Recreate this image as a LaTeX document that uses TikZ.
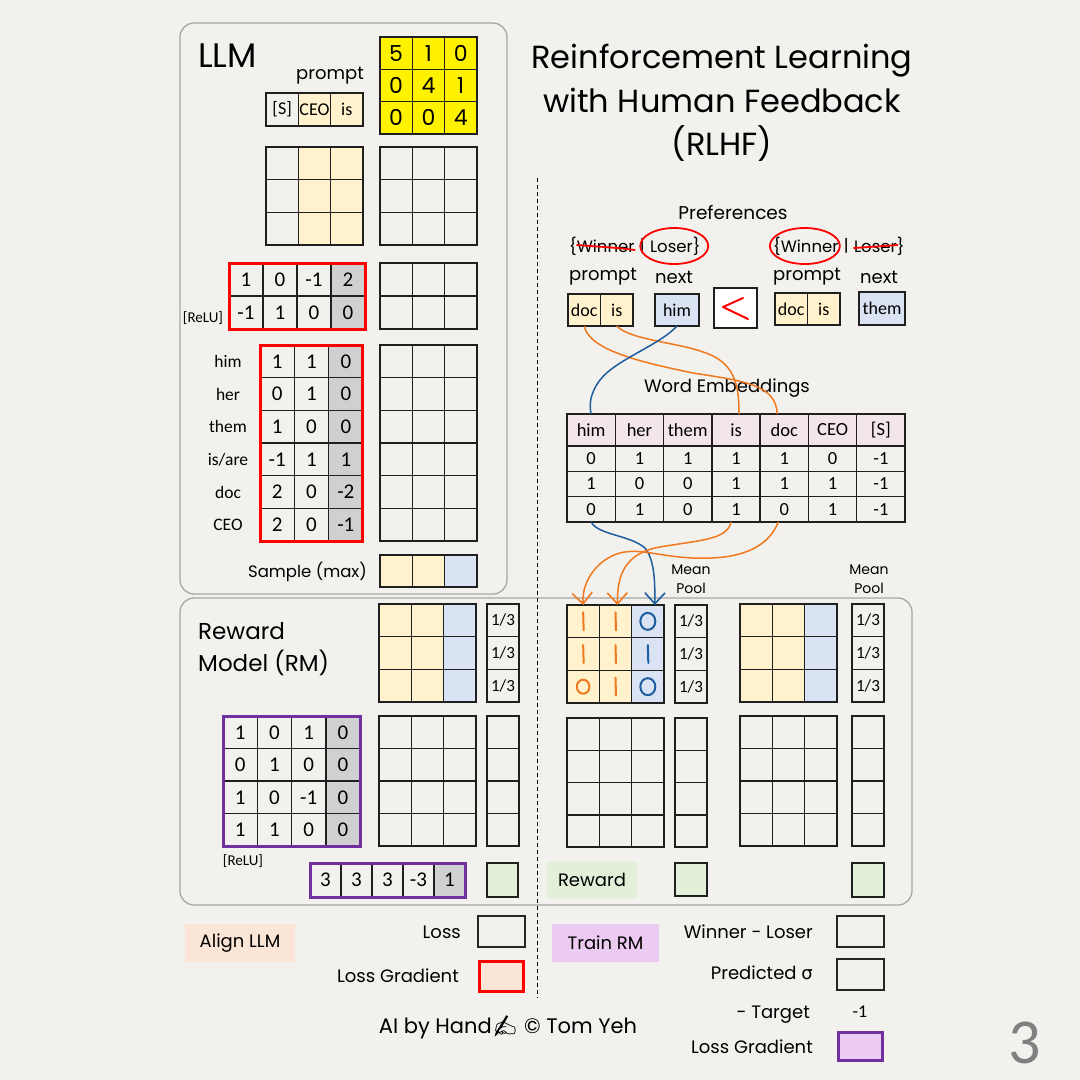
\documentclass[tikz,border=0pt]{standalone}
\usepackage{fontspec}
\setmainfont{Carlito}
\newfontfamily\hand{Poppins}
\newfontfamily\emo{Noto Emoji}
\newfontfamily\gk{DejaVu Sans}
\usetikzlibrary{fit,arrows.meta}
\definecolor{paper}{HTML}{F2F1EE}
\definecolor{yel}{HTML}{FFF2CC}
\definecolor{blu}{HTML}{DAE3F3}
\definecolor{gry}{HTML}{D0D0D0}
\definecolor{pnk}{HTML}{F3E6EB}
\definecolor{grn}{HTML}{E2F0D9}
\definecolor{pch}{HTML}{FBE5D6}
\definecolor{lav}{HTML}{EBCBF2}
\definecolor{pur}{HTML}{7030A0}
\definecolor{org}{HTML}{F0781E}
\definecolor{bln}{HTML}{1F5E9E}
\definecolor{pan}{HTML}{A6A6A6}
\tikzset{
 cell/.style={draw=black!88, line width=1.5pt, inner sep=0pt, outer sep=0pt, font={\fontsize{21}{21}\selectfont}},
 hw/.style={font={\hand\fontsize{#1}{#1}\selectfont}, inner sep=0pt},
 cf/.style={font={\fontsize{#1}{#1}\selectfont}, inner sep=0pt},
 panel/.style={draw=pan, line width=1.3pt, rounded corners=14pt},
 fr/.style={inner sep=0pt, line width=3pt, draw=#1},
 ocurve/.style={draw=org, line width=1.5pt},
 bcurve/.style={draw=bln, line width=1.5pt},
 arrowend/.style={-{Straight Barb[length=11pt,width=20pt,line width=1.6pt]}},
 hstroke/.style={line width=2pt, line cap=round},
 legbox/.style={draw=black!85, line width=1.4pt, minimum width=47pt, minimum height=31pt, inner sep=0pt},
}
% empty grid: name, x0, y0, ncols, nrows, cw, ch
\newcommand\egrid[7]{%
  \foreach \rowidx in {1,...,#5}{%
    \foreach \colidx in {1,...,#4}{%
      \node[cell,minimum width=#6pt,minimum height=#7pt] (#1-\rowidx-\colidx) at ({#2+(\colidx-0.5)*#6},{#3+(\rowidx-0.5)*#7}) {};
    }}}
% row of valued cells: name, row, x0, ytop, cw, ch, list
\newcommand\vrow[7]{%
  \foreach \val [count=\colidx] in {#7}{%
    \node[cell,minimum width=#5pt,minimum height=#6pt] (#1-#2-\colidx) at ({#3+(\colidx-0.5)*#5},{#4+0.5*#6}) {\val};
  }}
\begin{document}
\begin{tikzpicture}[x=1pt,y=-1pt]
\fill[paper] (0,0) rectangle (1080,1080);
\useasboundingbox (0,0) rectangle (1080,1080);

% panels and divider
\draw[panel] (180,23) rectangle (507,594);
\draw[panel] (180,598) rectangle (912,905);
\draw[line width=1pt, dash pattern=on 4pt off 3pt] (537,178) -- (537,998);

% ---------------- LLM ----------------
\node[hw=34, anchor=west] (llm) at (198,56) {LLM};
\begin{scope}[cell/.append style={fill=yellow, font={\hand\fontsize{22}{22}\selectfont}}]
\vrow{ym}{1}{380}{37}{32.3}{32.3}{5,1,0}
\vrow{ym}{2}{380}{69.3}{32.3}{32.3}{0,4,1}
\vrow{ym}{3}{380}{101.6}{32.3}{32.3}{0,0,4}
\end{scope}
\node[hw=18] (plab) at (330,76) {prompt};
\fill[yel] (298.3,93) rectangle (363,126);
\begin{scope}[cell/.append style={font={\fontsize{18}{18}\selectfont}}]
\vrow{pr}{1}{266}{93}{32.3}{33}{{[S]},CEO,is}
\end{scope}
\fill[yel] (298.3,147) rectangle (363,245);
\egrid{ga}{266}{147}{3}{3}{32.3}{32.7}
\egrid{gb}{380}{147}{3}{3}{32.3}{32.7}

\fill[gry] (331,263) rectangle (365,329);
\vrow{rm}{1}{229}{263}{34}{33}{1,0,-1,2}
\vrow{rm}{2}{229}{296}{34}{33}{-1,1,0,0}
\node[fit=(rm-1-1)(rm-2-4), fr=red] (rmframe) {};
\node[cf=15] (relua) at (203,318) {[ReLU]};
\egrid{gc}{380}{263}{3}{2}{32.3}{33}

\fill[gry] (328.7,345) rectangle (363,541);
\vrow{vo}{1}{260}{345}{34.33}{32.67}{1,1,0}
\vrow{vo}{2}{260}{377.67}{34.33}{32.67}{0,1,0}
\vrow{vo}{3}{260}{410.33}{34.33}{32.67}{1,0,0}
\vrow{vo}{4}{260}{443}{34.33}{32.67}{-1,1,1}
\vrow{vo}{5}{260}{475.67}{34.33}{32.67}{2,0,-2}
\vrow{vo}{6}{260}{508.33}{34.33}{32.67}{2,0,-1}
\node[fit=(vo-1-1)(vo-6-3), fr=red] (voframe) {};
\node[cf=17.5] (wa) at (228,361.3) {him};
\node[cf=17.5] (wb) at (228,394) {her};
\node[cf=17.5] (wc) at (228,426.7) {them};
\node[cf=17.5] (wd) at (228,459.3) {is/are};
\node[cf=17.5] (we) at (228,492) {doc};
\node[cf=17.5] (wf) at (228,524.7) {CEO};
\egrid{gd}{380}{345}{3}{6}{32.3}{32.67}

\node[hw=16.5, anchor=east] (samp) at (367,572) {Sample (max)};
\fill[yel] (380,555) rectangle (444.6,587);
\fill[blu] (444.6,555) rectangle (477,587);
\egrid{ge}{380}{555}{3}{1}{32.3}{32}

% ---------------- title ----------------
\node[font={\hand\fontsize{32}{43.5}\selectfont}, align=center, inner sep=0pt] (title) at (722,103) {Reinforcement Learning\\with Human Feedback\\(RLHF)};

% ---------------- preferences ----------------
\node[hw=18.5] (pref) at (733,213) {Preferences};
\node[hw=16.5, anchor=west] (lwin) at (569,246) {\{Winner};
\node[hw=16.5, anchor=west] (lbar) at ([xshift=5pt]lwin.east) {|};
\node[hw=16.5, anchor=west] (llos) at ([xshift=5pt]lbar.east) {Loser\}};
\draw[red, line width=1.8pt, line cap=round] ([shift={(8,-1)}]lwin.west) .. controls ([shift={(20,0)}]lwin.west) and ([shift={(-12,2)}]lwin.east) .. ([shift={(0,4)}]lwin.east);
\draw[red, line width=1.8pt] ([xshift=-1pt]llos.center) ellipse [x radius=34pt, y radius=18pt];
\node[hw=16.5, anchor=west] (rwin) at (773,246) {\{Winner};
\node[hw=16.5, anchor=west] (rbar) at ([xshift=5pt]rwin.east) {|};
\node[hw=16.5, anchor=west] (rlos) at ([xshift=5pt]rbar.east) {Loser\}};
\draw[red, line width=1.8pt, line cap=round] ([shift={(0,2)}]rlos.west) .. controls ([shift={(15,1)}]rlos.west) and ([shift={(-20,0)}]rlos.east) .. ([shift={(-7,-1)}]rlos.east);
\draw[red, line width=1.8pt] ([xshift=-1pt]rwin.center) ellipse [x radius=35pt, y radius=18pt];

\node[hw=18] (pa) at (603,277) {prompt};
\node[hw=18] (na) at (674,277) {next};
\node[hw=18] (pb) at (807,277) {prompt};
\node[hw=18] (nb) at (879,277) {next};

\fill[yel] (568,294) rectangle (633,326);
\begin{scope}[cell/.append style={font={\fontsize{18}{18}\selectfont}}]
\vrow{ld}{1}{568}{294}{32.5}{32}{doc,is}
\node[cell, fill=blu, minimum width=44pt, minimum height=32pt] (lhim) at (677,310) {him};
\fill[yel] (775,293) rectangle (840,325);
\vrow{rd}{1}{775}{293}{32.5}{32}{doc,is}
\node[cell, fill=blu, minimum width=46pt, minimum height=33pt] (rthem) at (882,308.5) {them};
\end{scope}
\node[cell, fill=white, minimum width=43pt, minimum height=40pt] (ltbox) at (735.5,308) {};
\draw[red, line width=2pt, line cap=round, line join=round] ([shift={(7.5,-10)}]ltbox.center) -- ([shift={(-12.5,-1)}]ltbox.center) -- ([shift={(12.5,11)}]ltbox.center);

% ---------------- word embeddings ----------------
\node[hw=18] (wel) at (727,388) {Word Embeddings};
\fill[pnk] (567,414) rectangle (905,446);
\begin{scope}[cell/.append style={font={\fontsize{18.5}{18.5}\selectfont}}]
\vrow{em}{0}{567}{414}{48.29}{32}{him,her,them,is,doc,CEO,{[S]}}
\vrow{em}{1}{567}{446}{48.29}{25.33}{0,1,1,1,1,0,-1}
\vrow{em}{2}{567}{471.33}{48.29}{25.33}{1,0,0,1,1,1,-1}
\vrow{em}{3}{567}{496.67}{48.29}{25.33}{0,1,0,1,0,1,-1}
\end{scope}

% ---------------- reward model ----------------
\node[font={\hand\fontsize{23}{32}\selectfont}, align=left, anchor=west, inner sep=0pt] (rmlab) at (198,649) {Reward\\Model (RM)};

% left block
\fill[yel] (379,604) rectangle (443.7,702);
\fill[blu] (443.7,604) rectangle (476,702);
\egrid{ra}{379}{604}{3}{3}{32.33}{32.67}
\begin{scope}[cell/.append style={font={\fontsize{17}{17}\selectfont}}]
\vrow{mpa}{1}{487}{604}{32}{32.67}{1/3}
\vrow{mpa}{2}{487}{636.67}{32}{32.67}{1/3}
\vrow{mpa}{3}{487}{669.33}{32}{32.67}{1/3}
\vrow{mpb}{1}{675}{605}{32}{32.67}{1/3}
\vrow{mpb}{2}{675}{637.67}{32}{32.67}{1/3}
\vrow{mpb}{3}{675}{670.33}{32}{32.67}{1/3}
\vrow{mpc}{1}{852}{604}{32}{32.67}{1/3}
\vrow{mpc}{2}{852}{636.67}{32}{32.67}{1/3}
\vrow{mpc}{3}{852}{669.33}{32}{32.67}{1/3}
\end{scope}
\fill[gry] (325.75,716) rectangle (360,846);
\vrow{pm}{1}{223}{716}{34.25}{32.5}{1,0,1,0}
\vrow{pm}{2}{223}{748.5}{34.25}{32.5}{0,1,0,0}
\vrow{pm}{3}{223}{781}{34.25}{32.5}{1,0,-1,0}
\vrow{pm}{4}{223}{813.5}{34.25}{32.5}{1,1,0,0}
\node[fit=(pm-1-1)(pm-4-4), fr=pur] (pmframe) {};
\node[cf=15] (relub) at (243,861) {[ReLU]};
\egrid{rb}{379}{716}{3}{4}{32.33}{32.5}
\egrid{rc}{487}{716}{1}{4}{32}{32.5}
\fill[gry] (434,863) rectangle (465,897);
\vrow{pv}{1}{310}{863}{31}{34}{3,3,3,-3,1}
\node[fit=(pv-1-1)(pv-1-5), fr=pur] (pvframe) {};
\node[cell, fill=grn, minimum width=31pt, minimum height=34pt] (gra) at (502.5,880) {};

% middle block
\fill[yel] (567,605) rectangle (631.7,703);
\fill[blu] (631.7,605) rectangle (664,703);
\egrid{ma}{567}{605}{3}{3}{32.33}{32.67}
\node[font={\hand\fontsize{14}{19}\selectfont}, align=center, inner sep=0pt] (mpla) at (691,579) {Mean\\Pool};
\egrid{mb}{567}{718}{3}{4}{32.33}{32.25}
\egrid{mc}{675}{718}{1}{4}{32}{32.25}
\node[cell, fill=grn, minimum width=32pt, minimum height=33pt] (grb) at (691,879.5) {};
\node[fill=grn, minimum width=90pt, minimum height=36pt, inner sep=0pt, font={\hand\fontsize{18}{18}\selectfont}] (rewlab) at (592,880) {Reward};

% hand-written values
\foreach \r in {1,2}{\foreach \cc in {1,2}{
  \draw[org, hstroke] ([shift={(0,-9)}]ma-\r-\cc.center) -- ([shift={(0.5,9)}]ma-\r-\cc.center);}}
\draw[org, hstroke] ([shift={(0,-9)}]ma-3-2.center) -- ([shift={(0.5,9)}]ma-3-2.center);
\draw[org, line width=2pt] (ma-3-1.center) ellipse [x radius=6.3pt, y radius=7pt];
\draw[bln, line width=2pt] (ma-1-3.center) ellipse [x radius=7.5pt, y radius=8.5pt];
\draw[bln, line width=2pt] (ma-3-3.center) ellipse [x radius=7.5pt, y radius=8.5pt];
\draw[bln, hstroke] ([shift={(0,-9)}]ma-2-3.center) -- ([shift={(0.5,9)}]ma-2-3.center);

% right block
\fill[yel] (740,604) rectangle (804.7,702);
\fill[blu] (804.7,604) rectangle (837,702);
\egrid{ka}{740}{604}{3}{3}{32.33}{32.67}
\node[font={\hand\fontsize{14}{19}\selectfont}, align=center, inner sep=0pt] (mplb) at (869,579) {Mean\\Pool};
\egrid{kb}{740}{716}{3}{4}{32.33}{32.5}
\egrid{kc}{852}{716}{1}{4}{32}{32.5}
\node[cell, fill=grn, minimum width=32pt, minimum height=34pt] (grc) at (868,880) {};

% ---------------- curves ----------------
\draw[ocurve] (ld-1-1.south) .. controls (589,350) and (640,362) .. (693,373) .. controls (745,381) and (776,385) .. ([xshift=-7pt]em-0-5.north);
\draw[ocurve] (ld-1-2.south) .. controls (630,340) and (680,343) .. (703,352) .. controls (735,362) and (739,385) .. ([xshift=3pt]em-0-4.north);
\draw[bcurve] (lhim.south) .. controls (660,345) and (615,360) .. (600,380) .. controls (590,393) and (589,405) .. (em-0-1.north);

\draw[bcurve, arrowend] (em-3-1.south) .. controls (598,535) and (630,535) .. (645,548) .. controls (655,560) and (655,585) .. ([xshift=7pt]ma-1-3.north);
\draw[ocurve, arrowend] ([xshift=-5pt]em-3-4.south) .. controls (727,540) and (700,540) .. (660,547) .. controls (625,553) and (617,575) .. ([xshift=2pt]ma-1-2.north);
\draw[ocurve, arrowend] ([xshift=-6pt]em-3-5.south) .. controls (768,548) and (740,560) .. (693,558) .. controls (650,556) and (630,543) .. (605,560) .. controls (588,572) and (582,590) .. (ma-1-1.north);

% ---------------- legend ----------------
\node[fill=pch, minimum width=110pt, minimum height=38pt, inner sep=0pt, hw=18] (alignlab) at (240,943) {Align LLM};
\node[hw=18, anchor=east] (losst) at (461,932) {Loss};
\node[legbox] (lossb) at (501.5,931.5) {};
\node[hw=18, anchor=east] (lgt) at (459,976) {Loss Gradient};
\node[legbox, draw=red, fill=pch, line width=3pt, minimum width=44pt, minimum height=30pt] (lgb) at (501.5,976.5) {};
\node[fill=lav, minimum width=107pt, minimum height=38pt, inner sep=0pt, hw=18] (trainlab) at (605.5,943) {Train RM};
\node[hw=18, anchor=east] (wlt) at (813,932) {Winner - Loser};
\node[legbox] (wlb) at (860.5,931.5) {};
\node[hw=18, anchor=east] (predt) at (813,973) {Predicted {\gk σ}};
\node[legbox] (predb) at (860.5,974.5) {};
\node[hw=18, anchor=east] (targt) at (810,1015) {- Target};
\node[cf=18] (targv) at (860,1012) {-1};
\node[hw=18, anchor=east] (lg2t) at (813,1047) {Loss Gradient};
\node[legbox, draw=pur, fill=lav, line width=3pt, minimum width=44pt, minimum height=28pt] (lg2b) at (860.5,1046.5) {};
\node[hw=21] (credit) at (508,1027) {AI by Hand{\emo ✍}\ © Tom Yeh};
\node[cf=64, text=black!50] (pnum) at (1025,1043) {3};
\end{tikzpicture}
\end{document}
